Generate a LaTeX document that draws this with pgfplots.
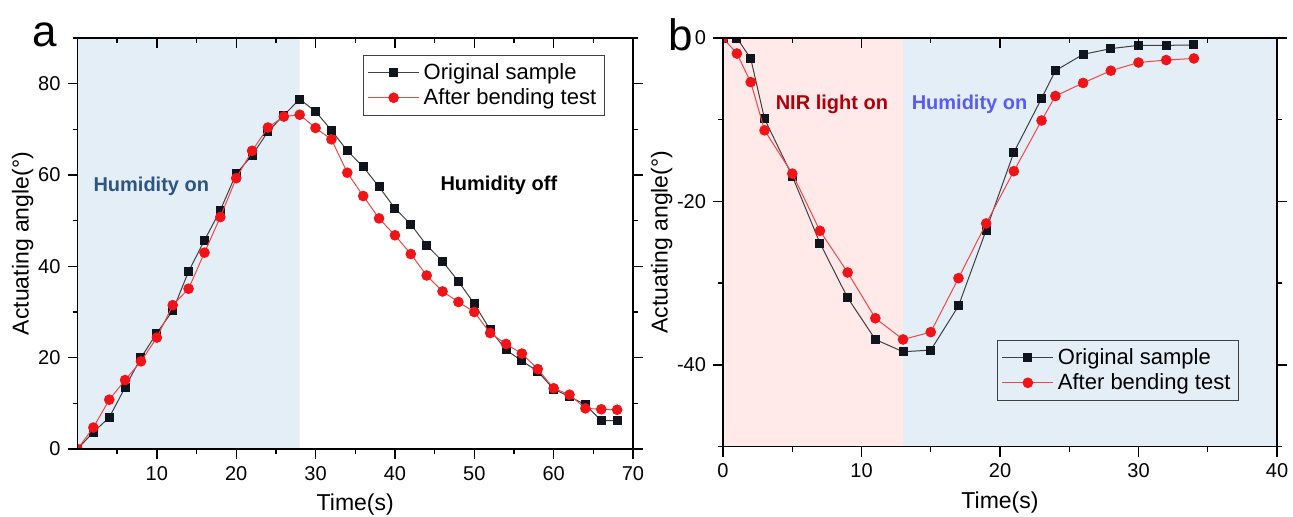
\documentclass[border=0pt]{standalone}
\usepackage{fontspec}
\setmainfont{Liberation Sans}
\usepackage{pgfplots}
\pgfplotsset{compat=1.18}

\definecolor{shadeblue}{RGB}{228,238,247}
\definecolor{shadepink}{RGB}{255,233,233}
\definecolor{hblue}{RGB}{44,85,130}
\definecolor{nirred}{RGB}{175,0,10}
\definecolor{hviolet}{RGB}{90,90,245}
\definecolor{redm}{RGB}{240,20,25}
\definecolor{redl}{RGB}{240,70,70}
\definecolor{blkm}{RGB}{16,20,28}

\pgfplotsset{
 mystyle/.style={
  scale only axis,
  axis on top,
  clip marker paths=true,
  axis line style={line width=0.8pt},
  tick style={line width=0.7pt, black},
  major tick length=5pt, minor tick length=2.5pt,
  tick align=outside,
  xtick pos=left, ytick pos=both,
  /pgf/number format/assume math mode=true,
  ticklabel style={font=\fontsize{10}{12}\selectfont},
  label style={font=\fontsize{11.5}{13}\selectfont},
  ylabel shift=-4.5pt,
  legend style={font=\fontsize{11}{13}\selectfont, draw=black!75, line width=0.5pt, fill=none, inner sep=2pt, row sep=-1pt, cells={anchor=west}},
  legend image code/.code={\draw[mark repeat=2,mark phase=2] plot coordinates {(0cm,0cm) (0.45cm,0cm) (0.9cm,0cm)};},
 },
 topticks/.style={
  scale only axis,
  tick align=inside,
  xtick pos=right,
  xticklabels={},
  ytick=\empty,
  axis line style={draw=none},
  tick style={line width=0.7pt, black},
  major tick length=5pt, minor tick length=2.5pt,
 },
 blk/.style={color=black!75, line width=0.5pt, mark=square*, mark size=2pt, mark options={fill=blkm, draw=blkm}},
 rd/.style={color=redl, line width=0.5pt, mark=*, mark size=2.4pt, mark options={fill=redm, draw=redm}},
}

\begin{document}
\begin{tikzpicture}
\useasboundingbox (0,0) rectangle (646.5pt,258pt);

% ---------------- panel a ----------------
\begin{axis}[mystyle, at={(38.75pt,33.5pt)}, anchor=south west,
  width=277.75pt, height=205.5pt,
  xmin=0, xmax=70, ymin=0, ymax=90,
  xtick={10,20,...,70}, minor xtick={5,15,...,65},
  ytick={0,20,...,80}, minor ytick={10,30,...,90},
  xlabel={Time(s)}, ylabel={Actuating angle(°)},
  legend style={at={(0.514,0.959)}, anchor=north west},
]
\addplot[fill=shadeblue, draw=none, forget plot] coordinates {(0,0) (28,0) (28,90) (0,90)} \closedcycle;
\addplot[blk] coordinates {
(0,0) (2,3.7) (4,6.9) (6,13.5) (8,20.0) (10,25.4) (12,30.3) (14,38.9) (16,45.7) (18,52.3)
(20,60.3) (22,64.3) (24,69.5) (26,73.1) (28,76.6) (30,73.9) (32,69.8) (34,65.3) (36,61.8)
(38,57.4) (40,52.7) (42,49.2) (44,44.6) (46,41.1) (48,36.7) (50,31.8) (52,26.1) (54,21.7)
(56,19.3) (58,17.0) (60,13.1) (62,11.5) (64,9.7) (66,6.2) (68,6.2)};
\addlegendentry{Original sample}
\addplot[rd] coordinates {
(0,0) (2,4.7) (4,10.8) (6,15.1) (8,19.2) (10,24.4) (12,31.5) (14,35.1) (16,43.0) (18,50.8)
(20,59.3) (22,65.3) (24,70.4) (26,72.8) (28,73.2) (30,70.3) (32,67.8) (34,60.5) (36,55.4)
(38,50.5) (40,46.8) (42,42.7) (44,38.0) (46,34.5) (48,32.2) (50,30.0) (52,25.4) (54,23.0)
(56,20.9) (58,17.5) (60,13.3) (62,11.9) (64,8.9) (66,8.7) (68,8.6)};
\addlegendentry{After bending test}
\node[font=\bfseries\fontsize{10}{12}\selectfont, text=hblue] at (axis cs:9.3,57.5) {Humidity on};
\node[font=\bfseries\fontsize{10}{12}\selectfont, text=black] at (axis cs:53.1,57.7) {Humidity off};
\end{axis}
\begin{axis}[topticks, at={(38.75pt,33.5pt)}, anchor=south west,
  width=277.75pt, height=205.5pt,
  xmin=0, xmax=70, ymin=0, ymax=90,
  xtick={10,20,...,70}, minor xtick={5,15,...,65}]
\end{axis}

% ---------------- panel b ----------------
\begin{axis}[mystyle, at={(361.5pt,34.75pt)}, anchor=south west,
  width=277pt, height=204.25pt,
  xmin=0, xmax=40, ymin=-50, ymax=0,
  xtick={0,10,...,40}, minor xtick={5,15,25,35},
  ytick={-40,-20,0}, minor ytick={-50,-30,-10},
  xlabel={Time(s)}, ylabel={Actuating angle(°)},
  legend style={at={(0.495,0.261)}, anchor=north west},
]
\addplot[fill=shadepink, draw=none, forget plot] coordinates {(0,-50) (13,-50) (13,0) (0,0)} \closedcycle;
\addplot[fill=shadeblue, draw=none, forget plot] coordinates {(13,-50) (40,-50) (40,0) (13,0)} \closedcycle;
\addplot[blk] coordinates {
(0,0) (1,0) (2,-2.5) (3,-9.9) (5,-16.9) (7,-25.1) (9,-31.8) (11,-36.9) (13,-38.4) (15,-38.2)
(17,-32.8) (19,-23.5) (21,-14.0) (23,-7.4) (24,-4.0) (26,-2.0) (28,-1.3) (30,-0.9) (32,-0.9) (34,-0.85)};
\addlegendentry{Original sample}
\addplot[rd] coordinates {
(0,0) (1,-1.9) (2,-5.4) (3,-11.3) (5,-16.6) (7,-23.6) (9,-28.7) (11,-34.3) (13,-36.9) (15,-36.0)
(17,-29.4) (19,-22.7) (21,-16.3) (23,-10.1) (24,-7.1) (26,-5.5) (28,-4.0) (30,-3.0) (32,-2.7) (34,-2.5)};
\addlegendentry{After bending test}
\node[font=\bfseries\fontsize{10}{12}\selectfont, text=nirred] at (axis cs:7.86,-8.16) {NIR light on};
\node[font=\bfseries\fontsize{10}{12}\selectfont, text=hviolet] at (axis cs:17.8,-8.16) {Humidity on};
\end{axis}
\begin{axis}[topticks, at={(361.5pt,34.75pt)}, anchor=south west,
  width=277pt, height=204.25pt,
  xmin=0, xmax=40, ymin=-50, ymax=0,
  xtick={0,10,...,40}, minor xtick={5,15,25,35}]
\end{axis}

\node[font=\fontsize{22}{24}\selectfont] at (22.5pt,240.5pt) {a};
\node[font=\fontsize{22}{24}\selectfont] at (340.5pt,240.5pt) {b};
\end{tikzpicture}
\end{document}
